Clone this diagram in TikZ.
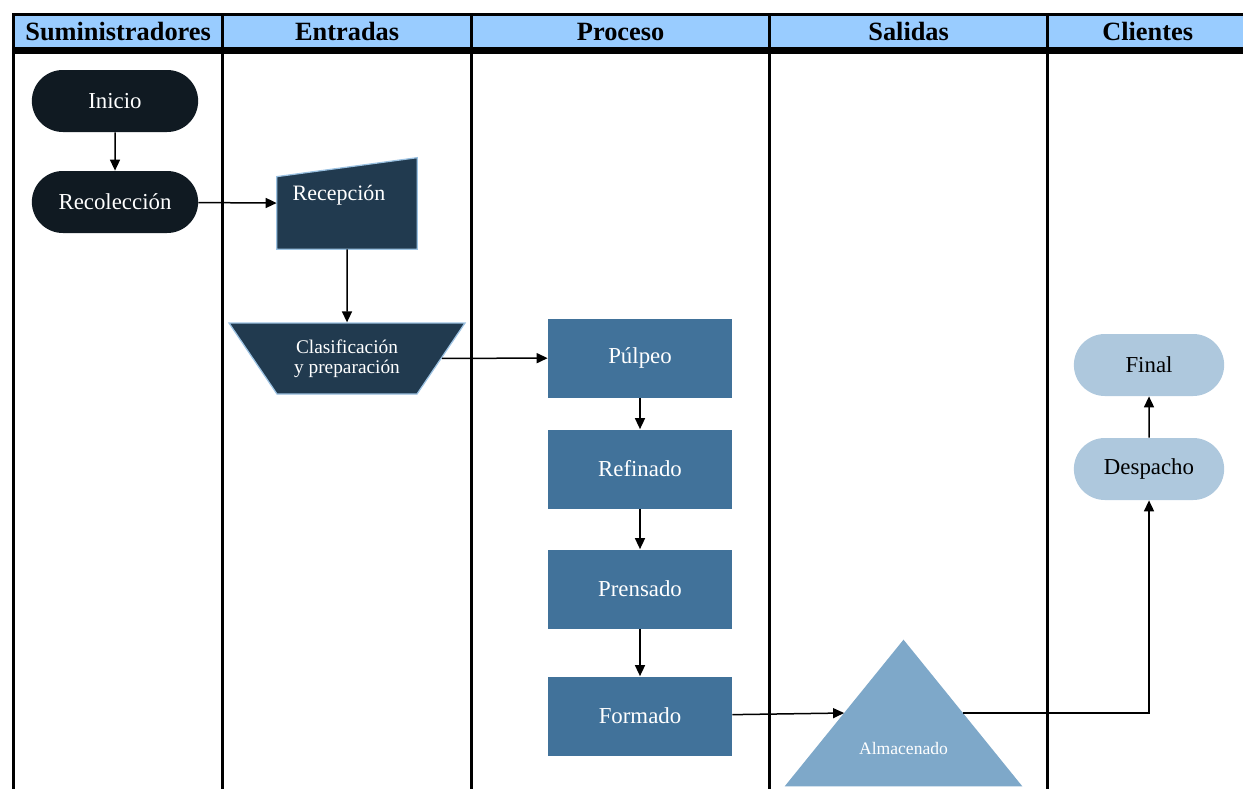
\documentclass[tikz,border=0pt]{standalone}
\usepackage{fontspec}
\setmainfont{Liberation Serif}
\usetikzlibrary{positioning, arrows.meta, shapes.geometric, shapes.misc, calc}

\definecolor{header_blue}{HTML}{99CCFF}
\definecolor{term_dark}{HTML}{101A22}
\definecolor{input_dark}{HTML}{213A4F}
\definecolor{input_edge}{HTML}{9CC2E2}
\definecolor{process_blue}{HTML}{41729A}
\definecolor{store_blue}{HTML}{7EA8C9}
\definecolor{term_light}{HTML}{AEC8DD}

\begin{document}
\begin{tikzpicture}
    [
        node distance=2.02cm and 4.6cm, on grid, auto,
        header_node/.style={rectangle, draw=black, fill=header_blue, line width=0.65mm, minimum height=6.8mm, inner sep=0pt, anchor=north west, font=\fontsize{15}{17}\selectfont\bfseries},
        lane_node/.style={rectangle, draw=black, line width=0.65mm, minimum height=15.2cm, inner sep=0pt, anchor=north west},
        dark_node/.style={rounded rectangle, fill=term_dark, text=white, minimum width=3.56cm, minimum height=1.24cm, font=\fontsize{13}{15}\selectfont},
        light_node/.style={rounded rectangle, fill=term_light, text=black, minimum width=3.24cm, minimum height=1.24cm, font=\fontsize{13}{15}\selectfont},
        input_node/.style={rectangle, minimum width=2.8cm, minimum height=1.82cm, inner sep=0pt},
        input_shape/.style={fill=input_dark, draw=input_edge, line width=0.25mm},
        sort_node/.style={trapezium, shape border rotate=180, trapezium angle=46, trapezium stretches body, minimum width=4.72cm, minimum height=1.42cm, fill=input_dark, draw=input_edge, line width=0.25mm, text=white, align=center, font=\fontsize{11}{11.5}\selectfont},
        process_node/.style={rectangle, fill=process_blue, text=white, minimum width=3.68cm, minimum height=1.58cm, font=\fontsize{13}{15}\selectfont},
        store_node/.style={rectangle, minimum width=4.74cm, minimum height=2.92cm, inner sep=0pt},
        white_text/.style={text=white, inner sep=0pt},
        flow_arrow/.style={-{Triangle[length=2.2mm, width=2mm]}, line width=0.3mm, color=black},
    ]
        \useasboundingbox (0,0) rectangle (24.86,-15.76) ;
        \node[header_node, minimum width=4.18cm] (h_sum) at (0.24,-0.26) {Suministradores} ;
        \node[header_node, minimum width=4.98cm] (h_ent) at (4.42,-0.26) {Entradas} ;
        \node[header_node, minimum width=5.96cm] (h_pro) at (9.4,-0.26) {Proceso} ;
        \node[header_node, minimum width=5.56cm] (h_sal) at (15.36,-0.26) {Salidas} ;
        \node[header_node, minimum width=4.0cm] (h_cli) at (20.92,-0.26) {Clientes} ;
        \node[lane_node, minimum width=4.18cm] (lane_sum) at (h_sum.south west) {} ;
        \node[lane_node, minimum width=4.98cm] (lane_ent) at (h_ent.south west) {} ;
        \node[lane_node, minimum width=5.96cm] (lane_pro) at (h_pro.south west) {} ;
        \node[lane_node, minimum width=5.56cm] (lane_sal) at (h_sal.south west) {} ;
        \node[lane_node, minimum width=4.0cm] (lane_cli) at (h_cli.south west) {} ;
        \node[dark_node] (inicio) at (2.3,-2.02) {Inicio} ;
        \node[dark_node] (recolec) [below = of inicio] {Recolección} ;
        \node[input_node] (recep) at (6.94,-4.07) {} ;
        \filldraw[input_shape] (recep.south west) -- (recep.south east) -- (recep.north east) -- ([yshift=-3.8mm]recep.north west) -- cycle ;
        \node[white_text, font=\fontsize{12.5}{14}\selectfont] (recep_text) at ([xshift=-1.6mm, yshift=1.7mm]recep.center) {Recepción} ;
        \node[sort_node] (clasif) [below = 3.1 of recep] {Clasificación\\y preparación} ;
        \node[process_node] (pulpeo) at (12.8,-7.16) {Púlpeo} ;
        \node[process_node] (refinado) [below = 2.22 of pulpeo] {Refinado} ;
        \node[process_node] (prensado) [below = 2.4 of refinado] {Prensado} ;
        \node[process_node] (formado) [below = 2.54 of prensado] {Formado} ;
        \node[store_node] (almac) at (18.07,-14.26) {} ;
        \fill[store_blue] (almac.south west) -- (almac.north) -- (almac.south east) -- cycle ;
        \node[white_text, font=\fontsize{10}{12}\selectfont] (almac_text) at ([yshift=-7mm]almac.center) {Almacenado} ;
        \coordinate (almac_in) at ($(almac.south west)!0.5!(almac.north)$) ;
        \coordinate (almac_out) at ($(almac.south east)!0.5!(almac.north)$) ;
        \node[light_node] (despacho) at (22.98,-9.38) {Despacho} ;
        \node[light_node] (final) [above = 2.08 of despacho] {Final} ;
        \draw[flow_arrow] (inicio) to (recolec) ;
        \draw[flow_arrow] (recolec) to (recep) ;
        \draw[flow_arrow] (recep) to (clasif) ;
        \draw[flow_arrow] (clasif) to (pulpeo) ;
        \draw[flow_arrow] (pulpeo) to (refinado) ;
        \draw[flow_arrow] (refinado) to (prensado) ;
        \draw[flow_arrow] (prensado) to (formado) ;
        \draw[flow_arrow] (formado) to (almac_in) ;
        \draw[flow_arrow] (almac_out) -| (despacho) ;
        \draw[flow_arrow] (despacho) to (final) ;
    \end{tikzpicture}
\end{document}
